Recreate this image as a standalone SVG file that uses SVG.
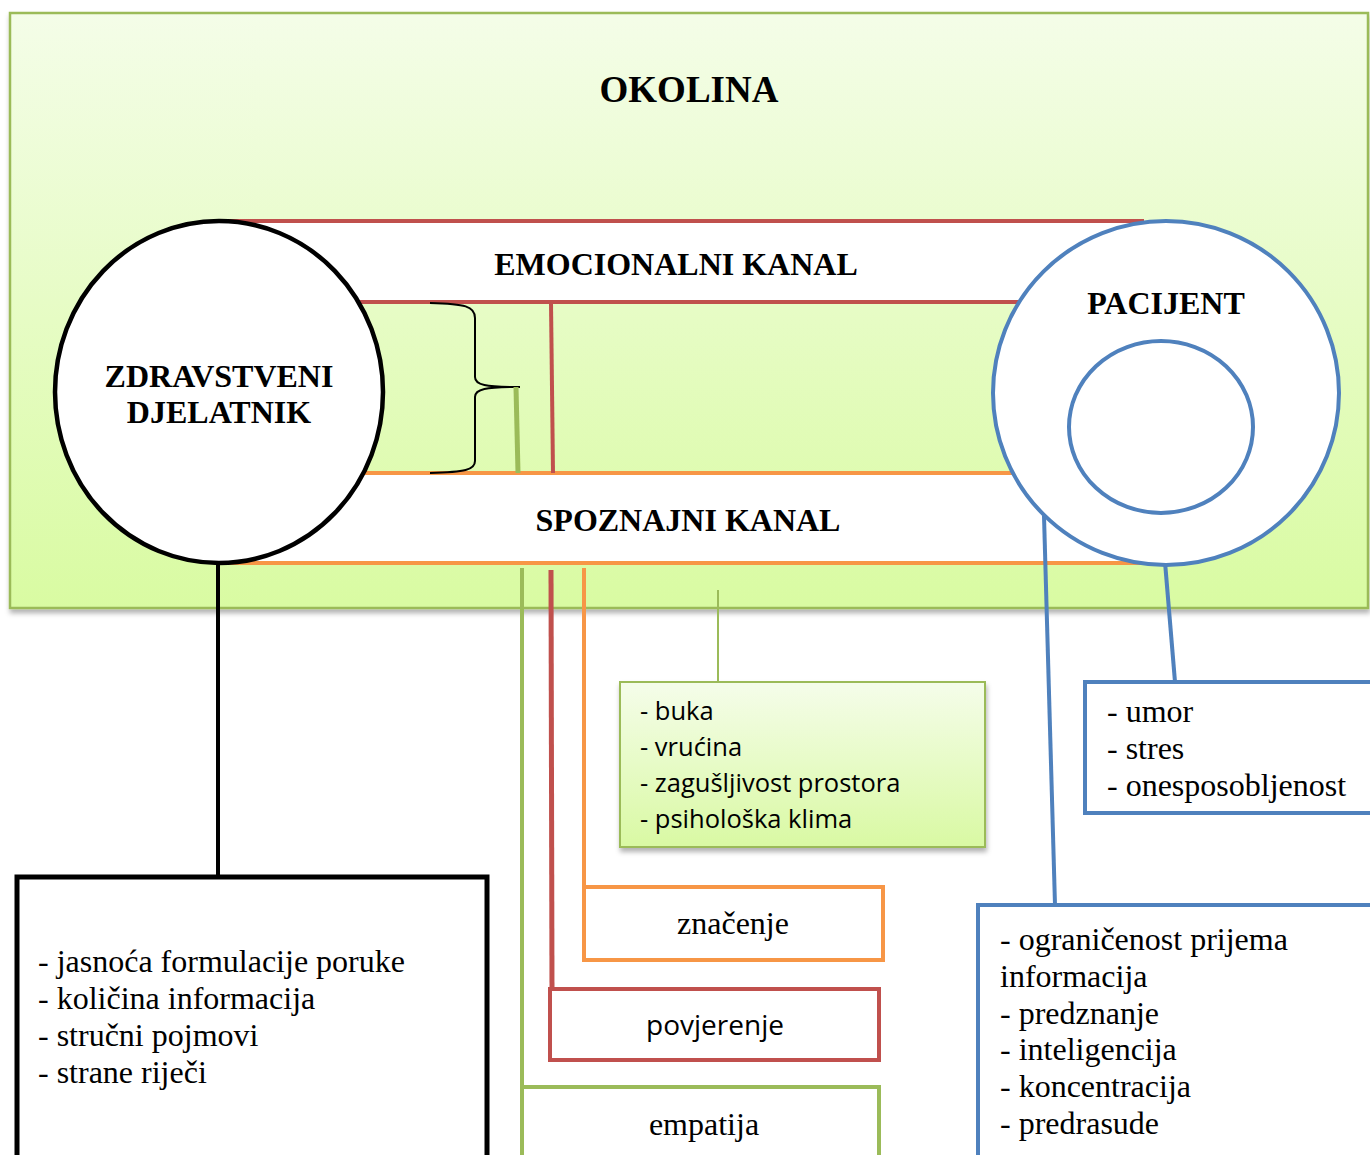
<svg xmlns="http://www.w3.org/2000/svg" width="1370" height="1155" viewBox="0 0 1370 1155">
<defs>
<linearGradient id="envGrad" x1="0" y1="0" x2="0" y2="1">
<stop offset="0" stop-color="#f4fde8"/>
<stop offset="1" stop-color="#d9fba2"/>
</linearGradient>
<linearGradient id="boxGrad" x1="0" y1="0" x2="0" y2="1">
<stop offset="0" stop-color="#f5fdea"/>
<stop offset="1" stop-color="#d9f9a3"/>
</linearGradient>
<filter id="shadow" x="-5%" y="-5%" width="110%" height="115%">
<feDropShadow dx="1" dy="4" stdDeviation="2.5" flood-color="#000" flood-opacity="0.3"/>
</filter>
</defs>
<style>
.head{font-family:"Liberation Serif","Times New Roman",serif;font-weight:bold;fill:#000;text-anchor:middle;font-size:32px}
.serif{font-family:"Liberation Serif","Times New Roman",serif;fill:#000;font-size:32px}
.sans{font-family:"Open Sans","Noto Sans",sans-serif;fill:#000}
.red{stroke:#c0504d}
.orange{stroke:#f79646}
.green{stroke:#9bbb59}
.blue{stroke:#4f81bd}
</style>
<rect width="1370" height="1155" fill="#fff"/>

<g id="okolina">
<rect x="10" y="13" width="1358" height="595" fill="url(#envGrad)" stroke="#9bbb59" stroke-width="2.5" filter="url(#shadow)"/>
<text class="head" x="689" y="102" style="font-size:37px">OKOLINA</text>
</g>

<g id="emocionalni-kanal">
<rect x="226" y="221" width="918" height="81" fill="#fff"/>
<line x1="226" y1="221" x2="1144" y2="221" class="red" stroke-width="4"/>
<line x1="226" y1="302" x2="1144" y2="302" class="red" stroke-width="4"/>
<text class="head" x="676" y="275">EMOCIONALNI KANAL</text>
</g>

<g id="spoznajni-kanal">
<rect x="226" y="473" width="918" height="90" fill="#fff"/>
<line x1="226" y1="473" x2="1144" y2="473" class="orange" stroke-width="4"/>
<line x1="226" y1="563" x2="1144" y2="563" class="orange" stroke-width="4"/>
<text class="head" x="688" y="531">SPOZNAJNI KANAL</text>
</g>

<g id="connectors" fill="none">
<path d="M430,303 C465,304 475,306 475,318 L475,377 C475,385 485,387 520,387 C485,387 475,389 475,397 L475,461 C475,470 465,472 430,473" stroke="#000" stroke-width="2"/>
<line x1="516" y1="387" x2="518" y2="473" class="green" stroke-width="5"/>
<line x1="551" y1="303" x2="553" y2="473" class="red" stroke-width="4"/>
<line x1="218" y1="564" x2="218" y2="877" stroke="#000" stroke-width="4"/>
<line x1="522" y1="568" x2="522" y2="1155" class="green" stroke-width="4"/>
<polyline points="551,570 552,990" class="red" stroke-width="5"/>
<line x1="584" y1="568" x2="584" y2="887" class="orange" stroke-width="4"/>
<line x1="718" y1="590" x2="718" y2="682" class="green" stroke-width="2"/>
<line x1="1161" y1="514" x2="1175" y2="682" class="blue" stroke-width="4"/>
<line x1="1044" y1="516" x2="1055" y2="905" class="blue" stroke-width="4"/>
</g>

<g id="zdravstveni-djelatnik">
<ellipse cx="219" cy="392" rx="164" ry="171" fill="#fff" stroke="#000" stroke-width="4.5"/>
<text class="head" x="219" y="387">ZDRAVSTVENI</text>
<text class="head" x="219" y="423">DJELATNIK</text>
</g>

<g id="pacijent">
<ellipse cx="1166" cy="393" rx="173" ry="172" fill="#fff" class="blue" stroke-width="4"/>
<ellipse cx="1161" cy="427" rx="92" ry="86" fill="#fff" class="blue" stroke-width="4"/>
<text class="head" x="1166" y="314">PACIJENT</text>
</g>

<g id="okolina-cimbenici">
<rect x="620" y="682" width="365" height="165" fill="url(#boxGrad)" stroke="#9bbb59" stroke-width="2" filter="url(#shadow)"/>
<text class="sans" x="640" y="720" font-size="25.5">- buka</text>
<text class="sans" x="640" y="756" font-size="25.5">- vrućina</text>
<text class="sans" x="640" y="792" font-size="25.5">- zagušljivost prostora</text>
<text class="sans" x="640" y="828" font-size="25.5">- psihološka klima</text>
</g>

<g id="znacenje">
<rect x="584" y="887" width="299" height="73" fill="#fff" class="orange" stroke-width="4"/>
<text class="serif" x="733" y="934" text-anchor="middle">značenje</text>
</g>

<g id="povjerenje">
<rect x="550" y="989" width="329" height="71" fill="#fff" class="red" stroke-width="4"/>
<text class="sans" x="715" y="1035" font-size="28" text-anchor="middle">povjerenje</text>
</g>

<g id="empatija">
<rect x="522" y="1087" width="357" height="100" fill="#fff" class="green" stroke-width="4"/>
<text class="serif" x="704" y="1135" text-anchor="middle">empatija</text>
</g>

<g id="djelatnik-cimbenici">
<rect x="17" y="877" width="470" height="310" fill="#fff" stroke="#000" stroke-width="5"/>
<text class="serif" x="38" y="972">- jasnoća formulacije poruke</text>
<text class="serif" x="38" y="1009">- količina informacija</text>
<text class="serif" x="38" y="1046">- stručni pojmovi</text>
<text class="serif" x="38" y="1083">- strane riječi</text>
</g>

<g id="pacijent-stanje">
<rect x="1085" y="682" width="300" height="131" fill="#fff" class="blue" stroke-width="4"/>
<text class="serif" x="1107" y="722">- umor</text>
<text class="serif" x="1107" y="759">- stres</text>
<text class="serif" x="1107" y="796">- onesposobljenost</text>
</g>

<g id="pacijent-spoznaja">
<rect x="978" y="905" width="420" height="300" fill="#fff" class="blue" stroke-width="4"/>
<text class="serif" x="1000" y="950">- ograničenost prijema</text>
<text class="serif" x="1000" y="987">informacija</text>
<text class="serif" x="1000" y="1024">- predznanje</text>
<text class="serif" x="1000" y="1060">- inteligencija</text>
<text class="serif" x="1000" y="1097">- koncentracija</text>
<text class="serif" x="1000" y="1134">- predrasude</text>
</g>
</svg>
